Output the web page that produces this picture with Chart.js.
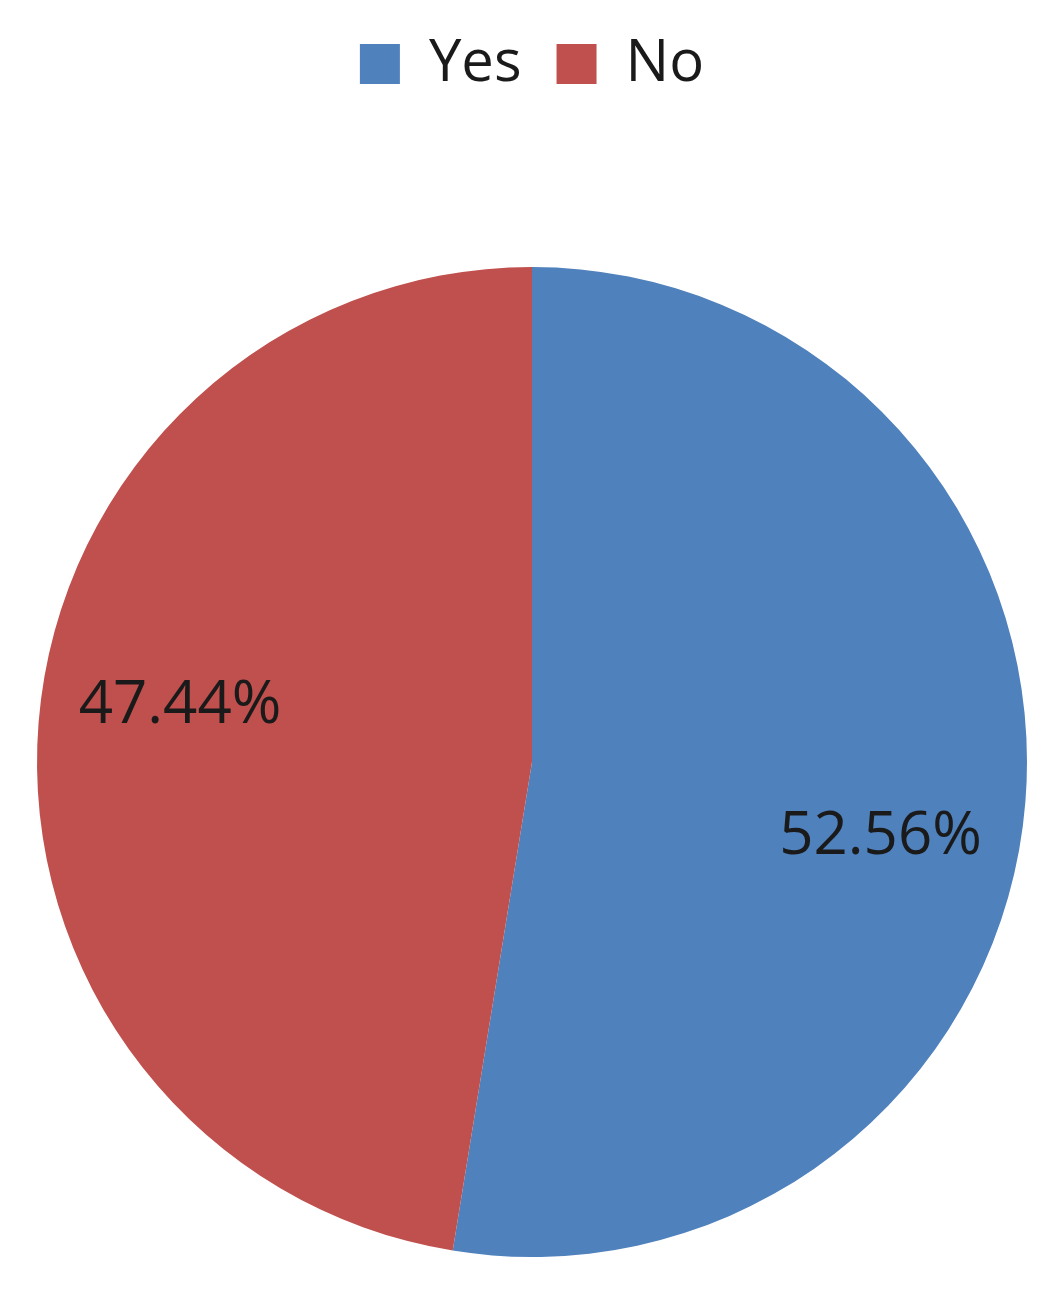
<!DOCTYPE html>
<html lang="en">
<head>
    <meta charset="UTF-8">
    <title>Yes / No</title>
    <script src="https://cdn.jsdelivr.net/npm/chart.js"></script>
    <style>
        html, body { margin: 0; padding: 0; background: #fff; }
        #wrap { width: 1052px; height: 1292px; }
    </style>
</head>
<body>
    <div id="wrap"><canvas id="chart"></canvas></div>
    <script>
        const categories = ['Yes', 'No'];
        const shares = [52.56, 47.44];
        const colors = ['#4F81BD', '#C0504D'];

        // percent labels drawn inside each slice (roughly where Excel put them)
        const sliceLabels = {
            id: 'sliceLabels',
            afterDatasetsDraw(chart) {
                const ctx = chart.ctx;
                const arcs = chart.getDatasetMeta(0).data;
                const turn = [0.13, 0.077];
                ctx.save();
                ctx.font = '60px "Open Sans"';
                ctx.fillStyle = '#1a1a1a';
                ctx.textAlign = 'center';
                ctx.textBaseline = 'middle';
                arcs.forEach((arc, i) => {
                    const p = arc.getProps(['x', 'y', 'startAngle', 'endAngle', 'outerRadius'], true);
                    const mid = (p.startAngle + p.endAngle) / 2 + turn[i];
                    const r = p.outerRadius * 0.72;
                    ctx.fillText(shares[i].toFixed(2) + '%', p.x + Math.cos(mid) * r, p.y + Math.sin(mid) * r);
                });
                ctx.restore();
            }
        };

        // leave a big gap under the legend, like the original
        const legendGap = {
            id: 'legendGap',
            beforeInit(chart) {
                const fit = chart.legend.fit;
                chart.legend.fit = function () {
                    fit.call(this);
                    this.height += 159;
                };
            }
        };

        const ctx = document.getElementById('chart').getContext('2d');
        new Chart(ctx, {
            type: 'pie',
            data: {
                labels: categories,
                datasets: [{
                    data: shares,
                    backgroundColor: colors,
                    borderWidth: 0
                }]
            },
            options: {
                responsive: true,
                maintainAspectRatio: false,
                animation: false,
                layout: { padding: { top: 0, left: 37, right: 25, bottom: 30 } },
                plugins: {
                    legend: {
                        position: 'top',
                        labels: {
                            boxWidth: 40,
                            boxHeight: 40,
                            padding: 35,
                            color: '#1a1a1a',
                            font: { family: 'Open Sans', size: 58 }
                        }
                    },
                    tooltip: { enabled: false }
                }
            },
            plugins: [sliceLabels, legendGap]
        });
    </script>
</body>
</html>
